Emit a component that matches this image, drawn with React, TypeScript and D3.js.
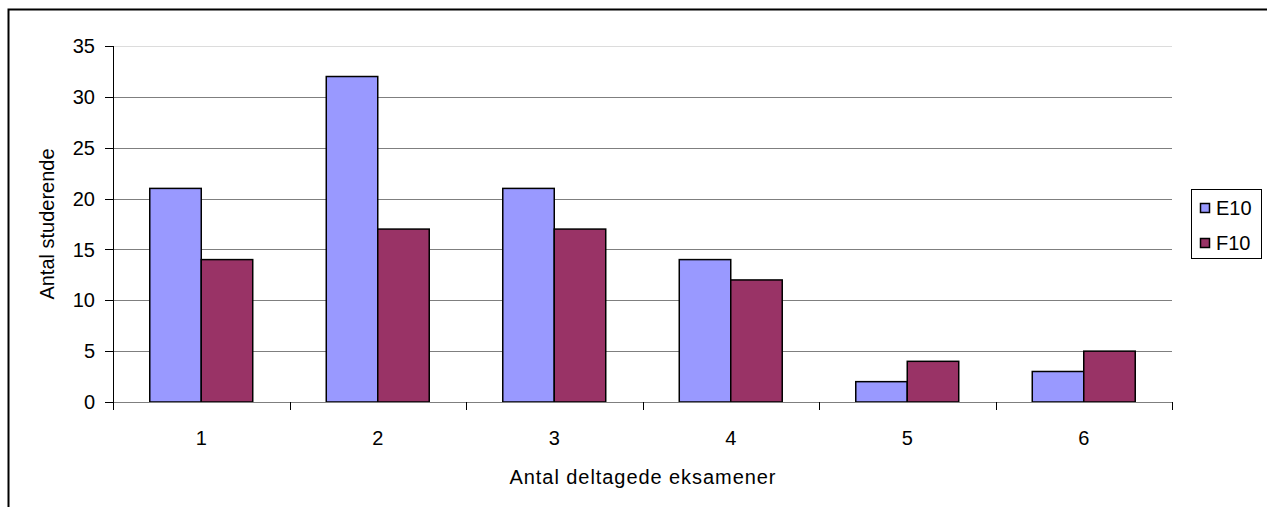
import React from "react";
import * as d3 from "d3";

const categories = ["1", "2", "3", "4", "5", "6"];
const seriesNames = ["E10", "F10"];
const e10Values = [21, 32, 21, 14, 2, 3];
const f10Values = [14, 17, 17, 12, 4, 5];
const yTicks = [0, 5, 10, 15, 20, 25, 30, 35];
const colors = ["#9999FF", "#993366"];

const W = 1267;
const H = 507;
const plot = { left: 113, right: 1172, top: 46, bottom: 402 };
const font = "Liberation Sans, Arial, sans-serif";
const fs = 20;

export default function App() {
  const x = d3
    .scaleBand<string>()
    .domain(categories)
    .range([plot.left, plot.right])
    .paddingInner(0)
    .paddingOuter(0);
  const inner = d3
    .scaleBand<string>()
    .domain(seriesNames)
    .range([0, x.bandwidth()])
    .paddingOuter(0.714)
    .paddingInner(0);
  const y = d3.scaleLinear().domain([0, 35]).range([plot.bottom, plot.top]);
  const series = [e10Values, f10Values];
  const boundaries = categories.map((c) => x(c)!).concat([plot.right]);

  return (
    <svg
      width={W}
      height={H}
      style={{ position: "absolute", left: 0, top: 0, background: "#fff" }}
      fontFamily={font}
    >
      <rect x={8.5} y={9.5} width={1400} height={700} fill="#fff" stroke="#000" strokeWidth={2} />
      {/* gridlines */}
      {yTicks.map((t) =>
        t === 0 ? null : (
          <line
            key={t}
            x1={plot.left}
            x2={plot.right}
            y1={Math.round(y(t)) + 0.5}
            y2={Math.round(y(t)) + 0.5}
            stroke={t === 35 ? "#dcdcdc" : "#7f7f7f"}
            strokeWidth={1}
          />
        )
      )}
      {/* bars */}
      {categories.map((c, i) => (
        <g key={c}>
          {series.map((vals, s) => (
            <rect
              key={s}
              x={x(c)! + inner(seriesNames[s])!}
              y={y(vals[i])}
              width={inner.bandwidth()}
              height={y(0) - y(vals[i])}
              fill={colors[s]}
              stroke="#000"
              strokeWidth={1.5}
            />
          ))}
        </g>
      ))}
      {/* axes */}
      <line x1={plot.left + 0.5} x2={plot.left + 0.5} y1={plot.top} y2={plot.bottom} stroke="#000" />
      <line x1={plot.left} x2={plot.right} y1={plot.bottom + 0.5} y2={plot.bottom + 0.5} stroke="#7f7f7f" />
      {yTicks.map((t) => (
        <g key={t}>
          <line
            x1={plot.left - 8}
            x2={plot.left}
            y1={Math.round(y(t)) + 0.5}
            y2={Math.round(y(t)) + 0.5}
            stroke="#000"
          />
          <text x={plot.left - 18} y={y(t)} dy="0.36em" textAnchor="end" fontSize={fs} fill="#000">
            {t}
          </text>
        </g>
      ))}
      {boundaries.map((b, i) => (
        <line
          key={i}
          x1={Math.round(b) + 0.5}
          x2={Math.round(b) + 0.5}
          y1={plot.bottom}
          y2={plot.bottom + 8}
          stroke="#000"
        />
      ))}
      {categories.map((c) => (
        <text
          key={c}
          x={x(c)! + x.bandwidth() / 2}
          y={445}
          textAnchor="middle"
          fontSize={fs}
          fill="#000"
        >
          {c}
        </text>
      ))}
      <text
        x={(plot.left + plot.right) / 2}
        y={484}
        textAnchor="middle"
        fontSize={fs}
        fill="#000"
        textLength={266}
        lengthAdjust="spacing"
      >
        Antal deltagede eksamener
      </text>
      <text
        transform={`translate(54, ${(plot.top + plot.bottom) / 2}) rotate(-90)`}
        textAnchor="middle"
        fontSize={fs}
        fill="#000"
      >
        Antal studerende
      </text>
      {/* legend */}
      <rect x={1191.5} y={189.5} width={70} height={69} fill="#fff" stroke="#000" strokeWidth={1} />
      {seriesNames.map((n, i) => (
        <g key={n}>
          <rect
            x={1200.5}
            y={203.5 + i * 35}
            width={9}
            height={9}
            fill={colors[i]}
            stroke="#000"
            strokeWidth={1.5}
          />
          <text x={1216} y={208 + i * 35} dy="0.36em" fontSize={fs} fill="#000">
            {n}
          </text>
        </g>
      ))}
    </svg>
  );
}
